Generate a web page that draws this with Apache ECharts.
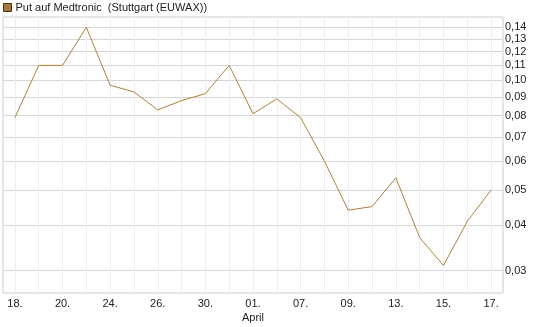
<!DOCTYPE html>
<html>
<head>
<meta charset="utf-8">
<script src="https://cdn.jsdelivr.net/npm/echarts@6/dist/echarts.min.js"></script>
<style>
  html, body { margin: 0; padding: 0; background: #fff; }
  #chart { width: 545px; height: 327px; }
</style>
</head>
<body>
<div id="chart"></div>
<script>
  // Kursverlauf Put auf Medtronic
  var days = ['18.', '19.', '20.', '21.', '24.', '25.', '26.', '27.', '30.', '31.', '01.',
    '02.', '07.', '08.', '09.', '10.', '13.', '14.', '15.', '16.', '17.'];
  var prices = [0.079, 0.11, 0.11, 0.14, 0.097, 0.093, 0.083, 0.088, 0.092, 0.11, 0.081,
    0.089, 0.079, 0.06, 0.044, 0.045, 0.054, 0.037, 0.031, 0.041, 0.05];
  var yTicks = [0.03, 0.04, 0.05, 0.06, 0.07, 0.08, 0.09, 0.10, 0.11, 0.12, 0.13, 0.14];

  var myChart = echarts.init(document.getElementById('chart'))
  myChart.setOption({
    animation: false,
    textStyle: { fontFamily: 'Liberation Sans, Arial, sans-serif' },
    legend: {
      left: 3,
      top: 2,
      padding: 0,
      itemWidth: 8,
      itemHeight: 8,
      icon: 'rect',
      textStyle: { fontSize: 11, color: '#222', padding: [0, 0, 0, -1] },
      data: [{
        name: 'Put auf Medtronic  (Stuttgart (EUWAX))',
        itemStyle: { color: '#a8783a', borderColor: '#4a3010', borderWidth: 1 }
      }]
    },
    grid: {
      left: 3,
      right: 42,
      top: 17,
      bottom: 34,
      show: true,
      borderColor: '#cccccc',
      borderWidth: 1
    },
    xAxis: {
      type: 'category',
      data: days,
      boundaryGap: true,
      axisLine: { show: false },
      axisTick: { show: false },
      splitLine: { show: false },
      axisLabel: {
        interval: 1,
        margin: 4,
        fontSize: 11,
        color: '#222',
        lineHeight: 14,
        formatter: function (v) {
          return v === '01.' ? '01.\nApril' : v
        }
      }
    },
    yAxis: {
      type: 'log',
      position: 'right',
      min: 0.02605,
      max: 0.1494,
      axisLine: { show: false },
      axisTick: { show: false, customValues: yTicks },
      splitLine: { show: true, lineStyle: { color: '#d6d6d6', width: 1 } },
      axisLabel: {
        customValues: yTicks,
        margin: 2,
        fontSize: 11,
        color: '#222',
        formatter: function (v) {
          return v.toFixed(2).replace('.', ',')
        }
      }
    },
    series: [{
      name: 'Put auf Medtronic  (Stuttgart (EUWAX))',
      type: 'line',
      data: prices,
      symbol: 'none',
      lineStyle: { color: '#b08035', width: 1 },
      itemStyle: { color: '#a8783a' },
      z: 5,
      markLine: {
        silent: true,
        symbol: 'none',
        label: { show: false },
        lineStyle: { color: '#eeeeee', width: 1, type: 'solid' },
        z: 1,
        data: days.map(function (d, i) { return { xAxis: i } })
      }
    }]
  })
</script>
</body>
</html>
